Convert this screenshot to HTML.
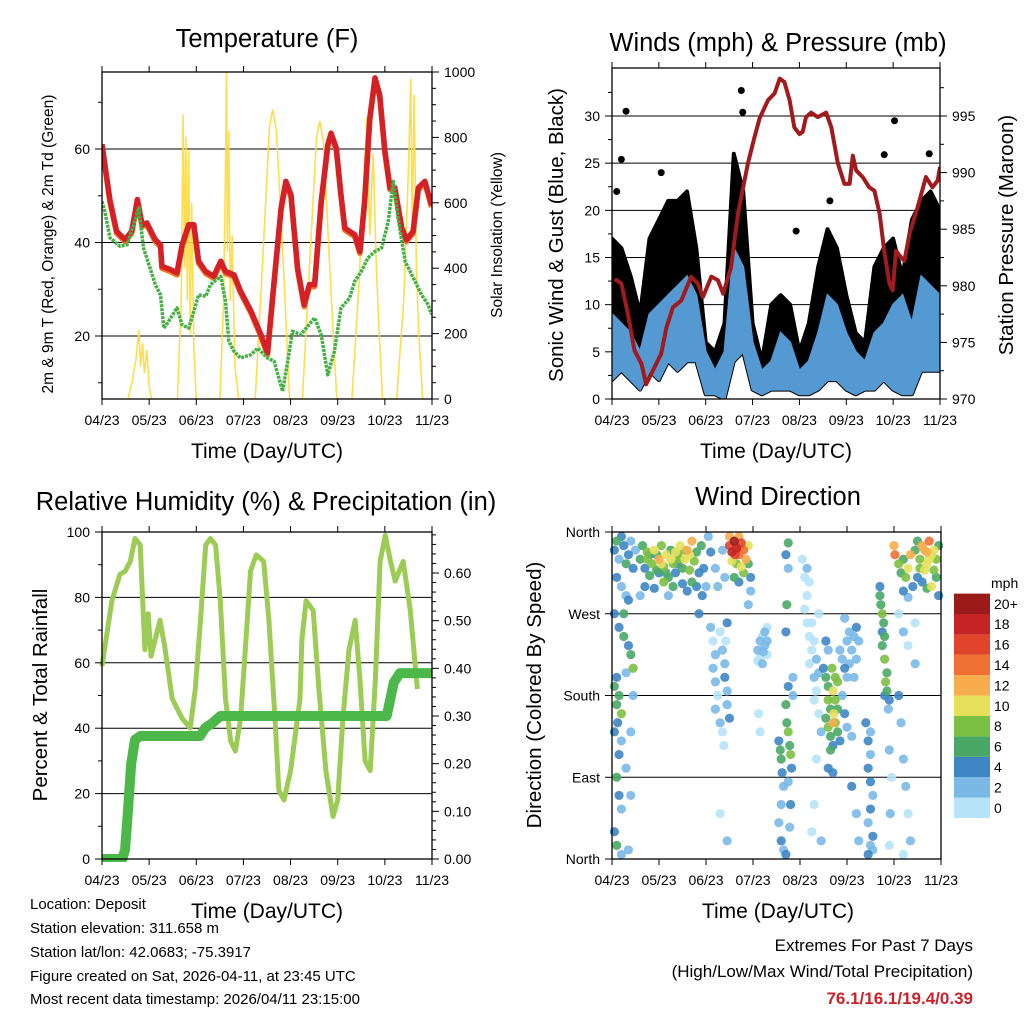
<!DOCTYPE html>
<html><head><meta charset="utf-8"><style>
body{margin:0;background:#fff;}
svg{display:block;font-family:"Liberation Sans",sans-serif;}
</style></head><body>
<svg id="chart" width="1024" height="1024" viewBox="0 0 1024 1024" xmlns="http://www.w3.org/2000/svg">
<rect width="1024" height="1024" fill="#fff"/>
<g id="layer"></g>
<text x="267" y="47" font-size="25.5" text-anchor="middle">Temperature (F)</text>
<text x="778" y="51" font-size="25.5" text-anchor="middle">Winds (mph) &amp; Pressure (mb)</text>
<text x="266" y="510" font-size="25.5" text-anchor="middle">Relative Humidity (%) &amp; Precipitation (in)</text>
<text x="778" y="505" font-size="25.5" text-anchor="middle">Wind Direction</text>
<text x="267" y="458" font-size="21" text-anchor="middle">Time (Day/UTC)</text>
<text x="776" y="458" font-size="21" text-anchor="middle">Time (Day/UTC)</text>
<text x="267" y="918" font-size="21" text-anchor="middle">Time (Day/UTC)</text>
<text x="778" y="918" font-size="21" text-anchor="middle">Time (Day/UTC)</text>
<text transform="translate(53,244) rotate(-90)" font-size="15.5" text-anchor="middle">2m &amp; 9m T (Red, Orange) &amp; 2m Td (Green)</text>
<text transform="translate(502,235) rotate(-90)" font-size="15.5" text-anchor="middle">Solar Insolation (Yellow)</text>
<text transform="translate(563,235) rotate(-90)" font-size="20.5" text-anchor="middle">Sonic Wind &amp; Gust (Blue, Black)</text>
<text transform="translate(1013,235) rotate(-90)" font-size="20.5" text-anchor="middle">Station Pressure (Maroon)</text>
<text transform="translate(47,695) rotate(-90)" font-size="20.5" text-anchor="middle">Percent &amp; Total Rainfall</text>
<text transform="translate(541,695) rotate(-90)" font-size="20.5" text-anchor="middle">Direction (Colored By Speed)</text>
<g font-size="15">
<text x="30" y="909">Location: Deposit</text>
<text x="30" y="933">Station elevation: 311.658 m</text>
<text x="30" y="957">Station lat/lon: 42.0683; -75.3917</text>
<text x="30" y="981">Figure created on Sat, 2026-04-11, at 23:45 UTC</text>
<text x="30" y="1004">Most recent data timestamp: 2026/04/11 23:15:00</text>
</g>
<g font-size="17" text-anchor="end">
<text x="973" y="951">Extremes For Past 7 Days</text>
<text x="973" y="977">(High/Low/Max Wind/Total Precipitation)</text>
<text x="973" y="1004" fill="#cc2229" font-weight="bold">76.1/16.1/19.4/0.39</text>
</g>
</svg>
<script>
const dayLabels=["04/23","05/23","06/23","07/23","08/23","09/23","10/23","11/23"];
const tempT=[0,0.17,0.31,0.49,0.63,0.75,0.85,0.95,1.13,1.24,1.27,1.45,1.59,1.70,1.84,1.95,2.05,2.20,2.37,2.52,2.62,2.80,2.94,3.16,3.37,3.51,3.65,3.80,3.90,4.01,4.15,4.29,4.40,4.51,4.65,4.79,4.86,4.97,5.07,5.15,5.25,5.36,5.47,5.57,5.68,5.79,5.89,6.0,6.11,6.21,6.36,6.46,6.60,6.71,6.85,6.99];
const tempF=[61,49,42.4,40.6,42.4,49.2,43.8,44.2,40.6,39.5,34.9,34.2,33.5,39.5,43.8,43.8,36.0,33.8,32.8,36.0,33.8,33.1,29.6,25.3,20.3,16.4,31.7,47.4,53.1,50.2,34.5,26.7,31.0,31.0,48.8,60.9,63.4,60.2,50.2,43.1,42.4,41.7,38.1,48.8,66.6,75.2,71.6,59.5,51.7,51.7,43.1,40.6,42.4,51.7,53.1,48];
const dewT=[0,0.06,0.17,0.38,0.53,0.67,0.78,0.88,1.02,1.13,1.24,1.31,1.41,1.59,1.70,1.84,1.95,2.05,2.20,2.30,2.52,2.62,2.69,2.80,2.94,3.16,3.30,3.51,3.65,3.83,3.94,4.04,4.22,4.51,4.65,4.79,4.93,5.07,5.25,5.36,5.50,5.64,5.79,5.93,6.07,6.18,6.28,6.43,6.64,6.78,6.92,6.99];
const dewF=[48.8,46.7,41.0,39.2,39.5,43.8,47.4,38.8,34.5,31.0,28.8,21.7,23.1,26.0,22.4,21.7,25.3,28.8,28.5,31.0,32.8,27.4,18.9,16.7,15.3,16.0,17.4,15.3,14.6,8.2,14.6,21.0,20.3,23.9,20.3,11.7,16.7,26.0,28.1,31.7,33.8,36.7,38.1,38.8,44.5,53.1,45.2,36.0,31.7,28.8,26.7,24.6];
const solarT=[0.55,0.65,0.72,0.78,0.82,0.86,0.9,0.95,1.0,1.05,1.6,1.68,1.72,1.75,1.78,1.81,1.84,1.87,1.9,1.95,2.0,2.5,2.58,2.62,2.64,2.66,2.69,2.72,2.76,2.82,2.9,3.25,3.4,3.55,3.62,3.7,3.85,3.98,4.25,4.4,4.55,4.62,4.7,4.85,4.98,5.3,5.45,5.55,5.62,5.68,5.75,5.82,5.88,5.95,6.25,6.4,6.5,6.55,6.58,6.62,6.67,6.72,6.8];
const solarW=[0,60,120,210,100,170,80,150,40,0,0,300,870,400,800,300,760,200,600,150,0,0,300,700,1000,450,820,300,500,100,0,0,400,830,885,820,400,0,0,400,800,850,780,350,0,0,350,650,860,500,750,400,200,0,0,300,700,980,500,930,400,200,0];
const windT=[0,0.2,0.4,0.6,0.8,1.0,1.2,1.4,1.6,1.8,2.0,2.2,2.4,2.6,2.8,3.0,3.2,3.4,3.6,3.8,4.0,4.2,4.4,4.6,4.8,5.0,5.2,5.4,5.6,5.8,6.0,6.2,6.4,6.6,6.8,7.0];
const windHi=[9,8,7,5,9,10,11,12,13,11,5,3,5,16,14,6,3,4,7,6,3,4,7,11,10,7,5,4,7,8,10,11,8,13,12,11];
const windLo=[2,3,2,1,3,2,4,3,4,4,0.5,0.5,0,4,5,1,0.5,1,1,1,0.5,0.5,1,2,2,1,0.5,1,1,2,1,0.5,0.5,3,3,3];
const gustHi=[17,16,13,9,17,19,21,21,22,16,6,5,8,26,22,8,4,10,11,10,5,8,14,18,16,11,7,6,14,16,17,13,19,21,22,20];
const gustOutT=[0.2,0.3,2.76,2.79,3.93,6.03,5.81,6.77,0.1,1.05,4.65];
const gustOutV=[25.4,30.5,32.7,30.4,17.8,29.5,25.9,26,22,24,21];
const presT=[0.06,0.2,0.34,0.48,0.63,0.73,0.87,1.05,1.16,1.30,1.48,1.69,1.83,1.94,2.12,2.26,2.37,2.54,2.69,2.9,3.04,3.15,3.33,3.47,3.58,3.68,3.79,3.89,4.0,4.07,4.14,4.25,4.39,4.57,4.68,4.82,4.96,5.07,5.14,5.21,5.35,5.49,5.6,5.71,5.81,5.92,5.99,6.06,6.17,6.24,6.35,6.52,6.7,6.84,6.95,7.0];
const presMb=[980.6,980.2,977.5,974.3,973.1,971.3,972.5,974.0,976.3,978.1,978.7,980.8,980.2,979.0,980.8,980.5,979.3,981.6,986.4,990.8,993.1,994.8,996.4,997.0,998.3,998.0,996.4,994.0,993.4,993.6,994.9,995.3,994.9,995.3,994.0,990.8,989.0,989.0,991.5,990.2,989.6,988.7,988.4,986.4,983.1,980.2,979.6,983.1,982.5,982.2,984.6,986.9,989.6,988.7,989.3,990.5];
const rhT=[0,0.21,0.38,0.49,0.6,0.7,0.81,0.91,0.98,1.04,1.23,1.33,1.49,1.7,1.87,1.98,2.09,2.2,2.3,2.41,2.51,2.62,2.73,2.83,2.94,3.04,3.15,3.27,3.43,3.54,3.67,3.75,3.86,4.0,4.2,4.24,4.33,4.48,4.6,4.75,4.9,5.0,5.11,5.24,5.37,5.47,5.58,5.69,5.8,5.9,6.01,6.12,6.22,6.39,6.54,6.69];
const rhPct=[59,79,87,88,91,98,96,64,75,62,73,65,49,43,40,52,73,96,98,96,79,49,36,33,43,64,88,93,91,73,43,21,18,27,49,67,79,76,52,27,13,18,43,64,73,55,30,27,55,91,99,91,85,91,76,52];
const rainT=[0,0.43,0.49,0.55,0.62,0.7,0.81,2.08,2.19,2.34,2.51,4.2,6.04,6.19,6.32,7.0];
const rainIn=[0,0,0.02,0.1,0.2,0.25,0.258,0.258,0.275,0.285,0.30,0.30,0.30,0.37,0.39,0.39];
const dirObs=[[0.05,340,4],[0.1,350,6],[0.15,330,3],[0.2,355,5],[0.25,345,4],[0.3,325,6],[0.35,335,4],[0.4,350,3],[0.45,320,5],[0.1,310,4],[0.2,300,3],[0.3,290,2],[0.05,270,4],[0.15,255,5],[0.25,245,6],[0.35,235,4],[0.4,225,7],[0.45,210,8],[0.3,205,3],[0.1,200,4],[0.05,190,6],[0.15,180,7],[0.1,170,6],[0.2,160,8],[0.12,150,5],[0.05,140,4],[0.2,130,3],[0.15,115,4],[0.3,100,2],[0.1,90,6],[0.15,70,4],[0.2,55,3],[0.05,30,4],[0.1,15,7],[0.2,5,3],[0.35,10,2],[0.4,70,2],[0.4,140,3],[0.45,180,2],[0.35,285,4],[0.25,270,6],
[0.6,330,6],[0.65,345,7],[0.7,320,5],[0.75,338,8],[0.8,312,6],[0.85,325,9],[0.9,340,10],[0.95,318,7],[1.0,330,12],[1.05,345,9],[1.1,322,8],[1.15,335,10],[1.2,310,7],[1.25,340,6],[1.3,325,8],[1.35,315,5],[1.4,335,9],[1.45,345,10],[1.5,320,7],[1.55,330,11],[1.6,340,12],[1.65,318,8],[1.7,350,13],[1.75,328,9],[1.8,338,7],[1.85,315,5],[1.9,345,6],[0.7,300,4],[0.9,298,5],[1.1,305,8],[1.3,300,6],[1.5,303,4],[1.7,305,7],[1.2,290,3],[1.6,295,4],[0.8,335,4],[1.0,315,5],[1.4,325,4],[1.8,300,5],[1.25,330,10],[1.35,338,11],[1.55,340,9],[0.6,290,2],[0.5,340,3],[1.95,320,4],[2.0,300,3],[1.85,270,5],[1.92,290,4],[0.75,330,9],[1.05,325,10],[1.45,330,8],[1.65,335,10],[0.95,335,7],[1.15,315,6],
[2.05,355,3],[2.1,338,4],[2.2,320,3],[2.25,300,2],
[2.1,255,2],[2.15,240,1],[2.2,225,2],[2.15,210,3],[2.2,195,2],[2.25,180,1],[2.2,165,3],[2.3,150,2],[2.35,140,1],[2.3,250,1],[2.35,230,2],[2.4,215,3],[2.4,200,4],[2.45,185,3],[2.45,170,2],[2.5,155,4],[2.42,240,1],[2.45,260,4],[2.38,125,1],[2.3,50,1],[2.45,20,2],[2.35,340,3],[2.4,310,2],
[2.5,345,16],[2.55,338,18],[2.6,350,20],[2.65,342,19],[2.7,335,15],[2.75,348,17],[2.8,340,14],[2.85,330,12],[2.9,345,10],[2.55,328,11],[2.65,325,9],[2.75,322,10],[2.8,315,8],[2.6,310,6],[2.7,305,4],[2.9,325,7],[2.95,310,5],[2.95,295,3],[2.9,280,2],[2.5,355,12],[2.7,355,13],[2.62,335,16],[2.72,342,13],
[3.1,230,2],[3.15,240,2],[3.2,245,1],[3.25,235,2],[3.3,225,1],[3.2,215,2],[3.15,222,1],[3.25,250,2],[3.3,255,1],[3.1,218,1],[3.22,228,2],[3.3,240,2],[3.12,160,1],[3.15,140,1],
[3.55,130,4],[3.6,110,6],[3.58,120,7],[3.62,95,5],[3.65,80,3],[3.6,60,2],[3.55,40,2],[3.6,20,4],[3.65,10,3],[3.7,170,6],[3.72,150,7],[3.75,140,8],[3.78,125,6],[3.8,115,8],[3.82,100,4],[3.75,85,2],[3.8,60,4],[3.78,35,2],[3.7,5,4],[3.75,190,5],[3.85,180,3],[3.85,200,2],[3.7,250,4],[3.72,280,6],[3.75,320,3],[3.7,335,4],[3.75,348,6],
[4.05,330,1],[4.1,310,1],[4.15,290,0],[4.1,275,1],[4.15,260,0],[4.2,245,1],[4.25,230,0],[4.2,215,1],[4.3,200,2],[4.35,185,1],[4.3,175,0],[4.25,260,0],[4.3,240,1],[4.35,220,2],[4.4,205,3],[4.4,160,1],[4.45,140,2],[4.35,110,1],[4.3,60,1],[4.25,30,0],[4.45,20,2],[4.15,320,2],[4.2,305,1],[4.4,270,1],
[4.5,210,4],[4.55,200,6],[4.6,190,7],[4.6,175,8],[4.65,165,6],[4.55,155,7],[4.6,145,8],[4.65,135,6],[4.7,125,5],[4.7,185,10],[4.75,175,9],[4.72,160,10],[4.75,150,8],[4.8,165,7],[4.8,195,9],[4.75,200,8],[4.68,210,9],[4.7,150,12],[4.65,120,7],[4.6,100,5],[4.7,95,4],[4.8,140,6],[4.85,130,4],[4.6,230,3],[4.55,240,4],
[4.85,230,3],[4.9,220,2],[4.95,210,4],[5.0,200,3],[5.05,215,2],[5.1,230,3],[5.15,245,2],[5.2,255,4],[5.25,240,3],[5.0,240,2],[4.9,180,3],[4.95,160,4],[5.0,145,3],[5.1,135,2],[5.15,200,3],[5.2,220,2],[5.05,250,3],[4.95,265,2],[5.1,80,4],[5.2,50,2],[5.25,20,3],
[5.4,150,4],[5.45,130,4],[5.5,115,3],[5.45,100,4],[5.5,85,5],[5.55,70,3],[5.5,55,4],[5.45,40,3],[5.55,25,4],[5.5,15,2],[5.45,5,4],[5.55,10,3],[5.5,140,2],
[5.7,290,6],[5.72,280,7],[5.75,270,8],[5.78,260,6],[5.8,245,7],[5.75,235,6],[5.8,220,8],[5.85,205,7],[5.82,195,8],[5.85,185,6],[5.9,175,4],[5.88,165,3],[5.7,300,5],[5.75,250,4],[5.8,180,4],[5.9,120,2],[5.95,90,1],[5.92,50,2],[5.9,15,1],
[6.0,345,12],[6.02,335,14],[6.1,325,8],[6.15,315,6],[6.2,330,7],[6.25,310,9],[6.3,320,10],[6.35,335,12],[6.4,300,5],[6.45,340,6],[6.5,350,7],[6.55,330,9],[6.6,345,12],[6.65,340,13],[6.7,325,11],[6.75,350,14],[6.8,335,10],[6.85,318,8],[6.9,330,9],[6.95,345,7],[6.5,310,4],[6.6,305,5],[6.7,298,6],[6.8,300,10],[6.9,310,7],[6.95,290,5],[6.2,295,4],[6.3,288,3],[6.55,320,8],[6.65,318,10],[6.75,330,11],[6.7,338,12],[6.85,340,11],
[6.1,270,1],[6.2,250,2],[6.3,235,1],[6.45,215,2],[6.1,180,4],[6.15,150,3],[6.2,110,2],[6.25,80,2],[6.3,50,1],[6.35,20,2],[6.2,5,1],[6.45,260,1]];
const speedLabels=["0","2","4","6","8","10","12","14","16","18","20+"];
const speedColors=["#b6e3f7","#7ab9e6","#3e86c4","#4aa866","#7cc043","#e6e05a","#f7ad4c","#f07133","#e0442a","#c42423","#9b1b1b"];

const NS="http://www.w3.org/2000/svg";
const layer=document.getElementById('layer');
function mk(tag,attrs,parent){const e=document.createElementNS(NS,tag);for(const k in attrs)e.setAttribute(k,attrs[k]);(parent||layer).appendChild(e);return e;}
function lin(d0,d1,r0,r1){return v=>r0+(v-d0)*(r1-r0)/(d1-d0);}
function pathOf(xs,ys,fx,fy){return xs.map((t,i)=>(i?'L':'M')+fx(t).toFixed(1)+','+fy(ys[i]).toFixed(1)).join('');}
function bandOf(xs,lo,hi,fx,fy){let d=xs.map((t,i)=>(i?'L':'M')+fx(t).toFixed(1)+','+fy(hi[i]).toFixed(1)).join('');for(let i=xs.length-1;i>=0;i--)d+='L'+fx(xs[i]).toFixed(1)+','+fy(lo[i]).toFixed(1);return d+'Z';}

function frame(name,x0,x1,y0,y1){
  const g=mk('g',{});
  
  
  mk('rect',{x:x0,y:y0,width:x1-x0,height:y1-y0,fill:'none',stroke:'#000','stroke-width':1.3},g);
  const fx=lin(0,7,x0,x1);
  for(let i=0;i<8;i++){const x=fx(i);
    mk('line',{x1:x,x2:x,y1:y1,y2:y1+6,stroke:'#000'},g);
    mk('line',{x1:x,x2:x,y1:y0,y2:y0-6,stroke:'#000'},g);
    const t=mk('text',{x:x,y:y1+26,'font-size':14,'text-anchor':'middle'},g);t.textContent=dayLabels[i];
    
    
  }
  return fx;
}
function yAxis(g,side,x,vals,fy,labels,minor){
  vals.forEach((v,i)=>{const y=fy(v);
    mk('line',{x1:x,x2:side<0?x-7:x+7,y1:y,y2:y,stroke:'#000'},g);
    const t=mk('text',{x:side<0?x-12:x+12,y:y+5,'font-size':14,'text-anchor':side<0?'end':'start'},g);t.textContent=labels[i];
    
    
  });
  (minor||[]).forEach(v=>{const y=fy(v);mk('line',{x1:x,x2:side<0?x-4:x+4,y1:y,y2:y,stroke:'#000'},g);});
}
function grid(g,vals,fy,x0,x1){vals.forEach(v=>{const y=fy(v);mk('line',{x1:x0,x2:x1,y1:y,y2:y,stroke:'#000','stroke-width':1},g);});}

// Panel 1 temperature
(function(){
  const g=mk('g',{});
  const fx=lin(0,7,102,432), fT=lin(20,60,336,149), fS=lin(0,1000,399,72);
  const clip=mk('clipPath',{id:'c1'},g);mk('rect',{x:102,y:72,width:330,height:327},clip);
  const d=mk('g',{'clip-path':'url(#c1)'},g);
  grid(d,[20,40,60],fT,102,432);
  const s=mk('path',{d:pathOf(solarT,solarW,fx,fS),fill:'none',stroke:'#ffd93a','stroke-width':1.6,'stroke-opacity':0.9},d);
  
  const o=mk('path',{d:pathOf(tempT,tempF,fx,v=>fT(v)+2),fill:'none',stroke:'#f47a20','stroke-width':5.5,'stroke-linejoin':'round'},d);
  
  const r=mk('path',{d:pathOf(tempT,tempF,fx,fT),fill:'none',stroke:'#d42026','stroke-width':5.5,'stroke-linejoin':'round'},d);
  
  const gr=mk('path',{d:pathOf(dewT,dewF,fx,fT),fill:'none',stroke:'#44b044','stroke-width':3.5,'stroke-dasharray':'3 1','stroke-linejoin':'round'},d);
  
  frame('temperature',102,432,72,399);
  yAxis(g,-1,102,[20,40,60],fT,['20','40','60'],[10,30,50,70]);
  yAxis(g,1,432,[0,200,400,600,800,1000],fS,['0','200','400','600','800','1000'],[50,100,150,250,300,350,450,500,550,650,700,750,850,900,950]);
})();

// Panel 2 winds
(function(){
  const g=mk('g',{});
  const fx=lin(0,7,612,940), fW=lin(0,30,399,116), fP=lin(970,995,399,116);
  const clip=mk('clipPath',{id:'c2'},g);mk('rect',{x:612,y:68,width:328,height:331},clip);
  const d=mk('g',{'clip-path':'url(#c2)'},g);
  grid(d,[5,10,15,20,25,30],fW,612,940);
  const gb=mk('path',{d:bandOf(windT,windLo,gustHi,fx,fW),fill:'#000',stroke:'#000','stroke-width':4,'stroke-linejoin':'round'},d);
  
  gustOutT.forEach((t,i)=>{const c=mk('circle',{cx:fx(t),cy:fW(gustOutV[i]),r:3.5,fill:'#000'},d);
    
    });
  const wb=mk('path',{d:bandOf(windT,windLo,windHi,fx,fW),fill:'#5499d2',stroke:'#5499d2','stroke-width':2},d);
  
  const p=mk('path',{d:pathOf(presT,presMb,fx,fP),fill:'none',stroke:'#a11a1d','stroke-width':4,'stroke-linejoin':'round'},d);
  
  frame('winds',612,940,68,399);
  yAxis(g,-1,612,[0,5,10,15,20,25,30],fW,['0','5','10','15','20','25','30'],[2.5,7.5,12.5,17.5,22.5,27.5,32.5]);
  yAxis(g,1,940,[970,975,980,985,990,995],fP,['970','975','980','985','990','995'],[972.5,977.5,982.5,987.5,992.5,997.5]);
})();

// Panel 3 RH & rain
(function(){
  const g=mk('g',{});
  const fx=lin(0,7,102,432), fR=lin(0,100,859,532), fI=lin(0,0.6,859,573);
  const clip=mk('clipPath',{id:'c3'},g);mk('rect',{x:99,y:530,width:336,height:332},clip);
  const d=mk('g',{'clip-path':'url(#c3)'},g);
  grid(d,[20,40,60,80],fR,102,432);
  const r=mk('path',{d:pathOf(rhT,rhPct,fx,fR),fill:'none',stroke:'#9ccc55','stroke-width':5,'stroke-linejoin':'round'},d);
  
  const p=mk('path',{d:pathOf(rainT,rainIn,fx,fI),fill:'none',stroke:'#4db84a','stroke-width':10,'stroke-linejoin':'round'},d);
  
  frame('humidity',102,432,532,859);
  yAxis(g,-1,102,[0,20,40,60,80,100],fR,['0','20','40','60','80','100'],[10,30,50,70,90]);
  yAxis(g,1,432,[0,0.1,0.2,0.3,0.4,0.5,0.6],fI,['0.00','0.10','0.20','0.30','0.40','0.50','0.60'],[0.02,0.04,0.06,0.08,0.12,0.14,0.16,0.18,0.22,0.24,0.26,0.28,0.32,0.34,0.36,0.38,0.42,0.44,0.46,0.48,0.52,0.54,0.56,0.58,0.62,0.64,0.66,0.68]);
})();

// Panel 4 wind direction
(function(){
  const g=mk('g',{});
  const fx=lin(0,7,612,941), fD=lin(0,360,859,532);
  const clip=mk('clipPath',{id:'c4'},g);mk('rect',{x:608,y:528,width:337,height:336},clip);
  const d=mk('g',{'clip-path':'url(#c4)'},g);
  grid(d,[90,180,270],fD,612,941);
  const sorted=dirObs.slice().sort((a,b)=>a[2]-b[2]);
  sorted.forEach(o=>{const b=Math.min(10,Math.floor(o[2]/2));
    const c=mk('circle',{cx:fx(o[0]),cy:fD(o[1]),r:4.6,fill:speedColors[b],'fill-opacity':0.9},d);
    
    });
  frame('wind-direction',612,941,532,859);
  yAxis(g,-1,612,[0,90,180,270,360],fD,['North','East','South','West','North'],[]);
  const cb=mk('g',{},g);
  const h=20.4;
  speedLabels.forEach((l,i)=>{const y=818-(i+1)*h;
    mk('rect',{x:954,y:y,width:36,height:h,fill:speedColors[i]},cb);
    const t=mk('text',{x:994,y:y+h/2+5,'font-size':14},cb);t.textContent=l;
    
    });
  const u=mk('text',{x:991,y:588,'font-size':14},cb);u.textContent='mph';
  
  
})();
</script>
</body></html>
